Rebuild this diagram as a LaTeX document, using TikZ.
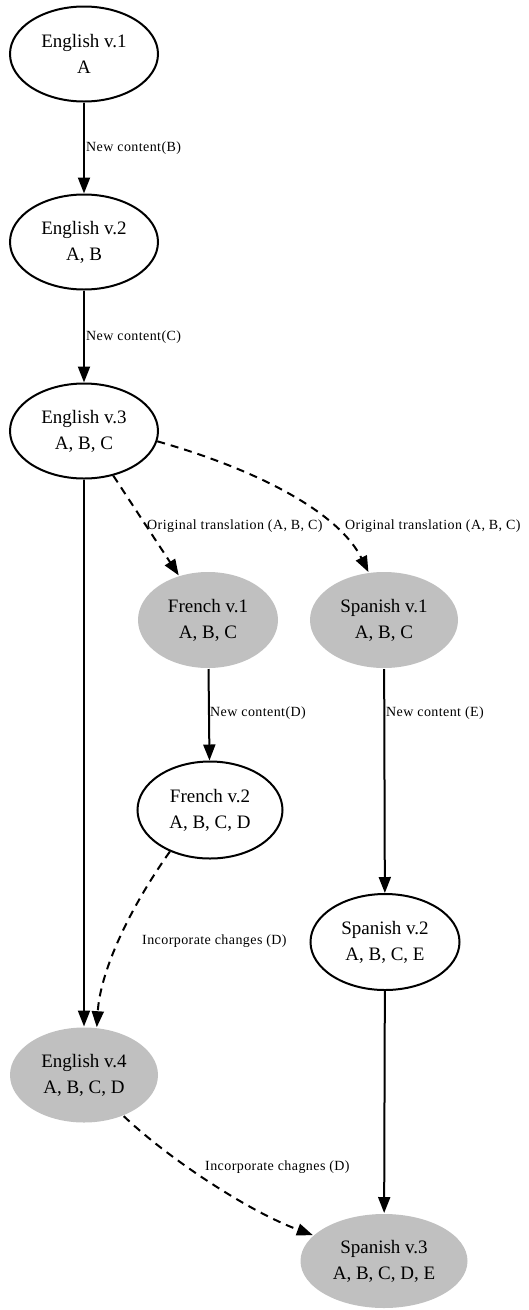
\documentclass[tikz,border=0pt]{standalone}
\usepackage{fontspec}
\setmainfont{Liberation Serif}
\newfontfamily\labfont[LetterSpace=3]{Liberation Serif}
\usetikzlibrary{arrows.meta,shapes.geometric}
\definecolor{nodegray}{RGB}{192,192,192}
\begin{document}
\begin{tikzpicture}[x=1pt,y=-1pt,
  ver/.style={ellipse, draw=black, line width=2pt, inner sep=0pt, align=center,
    font=\fontsize{19}{26}\selectfont, minimum width=148pt, minimum height=95pt},
  gver/.style={ver, draw=none, fill=nodegray},
  edge/.style={line width=2pt, -{Triangle[length=16pt,width=12pt]}},
  dedge/.style={edge, dash pattern=on 8pt off 6pt},
  elab/.style={font=\labfont\fontsize{14}{16}\selectfont, anchor=west, inner sep=0pt}
]
\useasboundingbox (0,0) rectangle (528,1310);
\node[ver] (E1) at (84,54) {English v.1\\A};
\node[ver] (E2) at (84,242) {English v.2\\A, B};
\node[ver] (E3) at (84,431) {English v.3\\A, B, C};
\node[gver, minimum width=140pt, minimum height=96pt] (F1) at (208,620) {French v.1\\A, B, C};
\node[gver, minimum height=96pt] (S1) at (384,620) {Spanish v.1\\A, B, C};
\node[ver, minimum width=145pt, minimum height=97pt] (F2) at (210,810) {French v.2\\A, B, C, D};
\node[ver, minimum width=149pt, minimum height=96pt] (S2) at (385,942) {Spanish v.2\\A, B, C, E};
\node[gver] (E4) at (84,1075) {English v.4\\A, B, C, D};
\node[gver, minimum width=167pt, minimum height=94pt] (S3) at (384,1261) {Spanish v.3\\A, B, C, D, E};

\draw[edge] (E1) -- (E2);
\draw[edge] (E2) -- (E3);
\draw[dedge] (E3) -- (F1);
\draw[dedge] (E3.-8) .. controls (265,472) and (340,515) .. (S1.108);
\draw[edge] (F1) -- (F2);
\draw[edge] (S1) -- (S2);
\draw[dedge] (F2.-134) .. controls (125,915) and (100,975) .. (E4.75);
\draw[edge] (E3) -- (E4);
\draw[edge] (S2) -- (S3);
\draw[dedge] (E4.-46) .. controls (170,1160) and (250,1212) .. (S3.160);

\node[elab] (l1) at (86,148) {New content(B)};
\node[elab] (l2) at (86,337) {New content(C)};
\node[elab] (l3) at (147,526) {Original translation (A, B, C)};
\node[elab] (l4) at (345,526) {Original translation (A, B, C)};
\node[elab] (l5) at (210,713) {New content(D)};
\node[elab] (l6) at (386,713) {New content (E)};
\node[elab] (l7) at (142,941) {Incorporate changes (D)};
\node[elab] (l8) at (205,1167) {Incorporate chagnes (D)};
\end{tikzpicture}
\end{document}
